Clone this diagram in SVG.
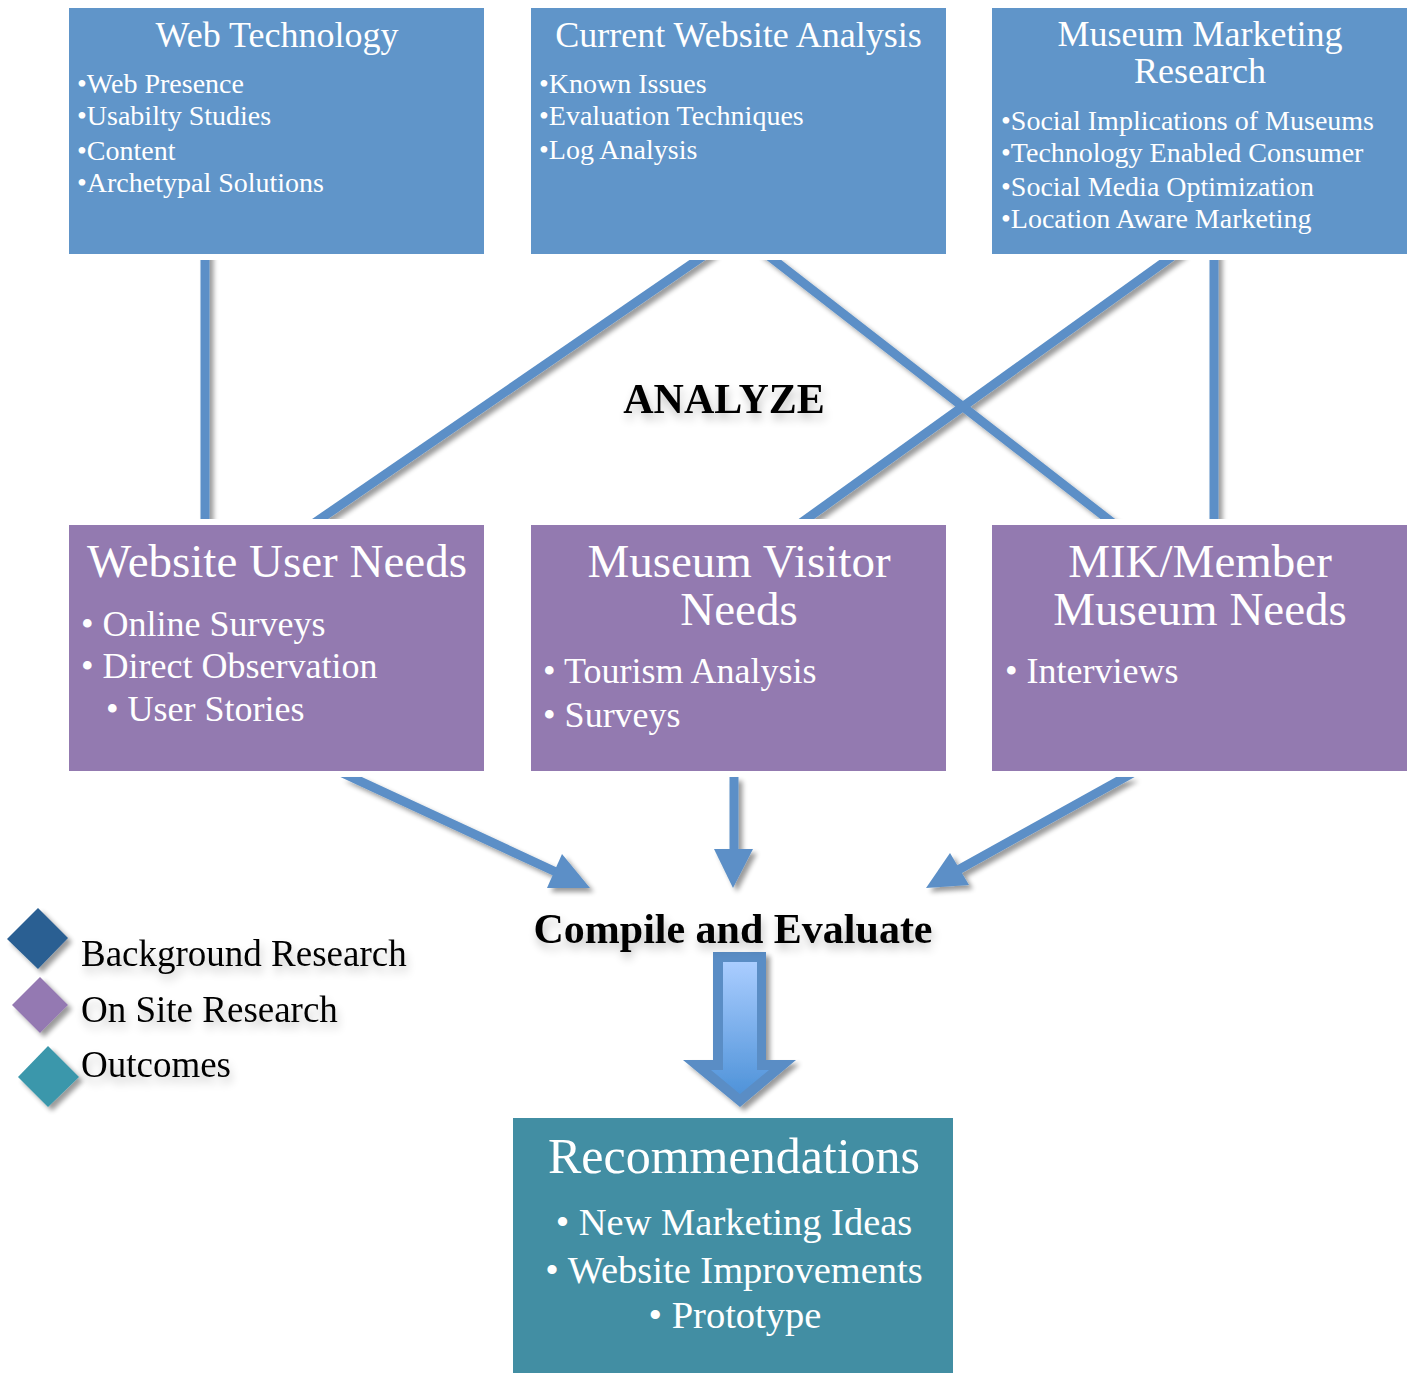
<svg xmlns="http://www.w3.org/2000/svg" width="1411" height="1373" viewBox="0 0 1411 1373">
<style>
.bx{fill:#6095C9}
.pu{fill:#937AB0}
.te{fill:#428EA3}
.wt{font-family:"Liberation Serif","Times New Roman",serif;fill:#ffffff}
.t1{font-size:36px}
.b1{font-size:28px}
.t2{font-size:47px}
.b2{font-size:36px}
.t3{font-size:50px}
.b3{font-size:38.5px}
.bk{font-family:"Liberation Serif","Times New Roman",serif;fill:#000000}
.lg{font-size:37px}
.hd{font-size:42px;font-weight:bold}
.cn{stroke:#5B8FC7;stroke-width:9;fill:none}
.ah{fill:#5B8FC7}
</style>
<defs>
<filter id="sh" filterUnits="userSpaceOnUse" x="0" y="0" width="1411" height="1373">
<feGaussianBlur in="SourceAlpha" stdDeviation="2.5"/>
<feOffset dx="4" dy="4" result="o"/>
<feComponentTransfer><feFuncA type="linear" slope="0.4"/></feComponentTransfer>
<feMerge><feMergeNode/><feMergeNode in="SourceGraphic"/></feMerge>
</filter>
<filter id="tsh" filterUnits="userSpaceOnUse" x="0" y="0" width="1411" height="1373">
<feGaussianBlur in="SourceAlpha" stdDeviation="5"/>
<feOffset dx="2" dy="6"/>
<feComponentTransfer><feFuncA type="linear" slope="0.25"/></feComponentTransfer>
<feMerge><feMergeNode/><feMergeNode in="SourceGraphic"/></feMerge>
</filter>
<clipPath id="cTop"><rect x="0" y="260" width="1411" height="259"/></clipPath>
<clipPath id="cBot"><rect x="0" y="777" width="1411" height="120"/></clipPath>
<linearGradient id="ag" x1="0" y1="0" x2="0" y2="1">
<stop offset="0" stop-color="#AACDFF"/>
<stop offset="1" stop-color="#4F93D9"/>
</linearGradient>
</defs>

<g id="connectors">
<g clip-path="url(#cTop)">
<g filter="url(#sh)">
<line class="cn" x1="205" y1="250" x2="205" y2="530"/>
<line class="cn" x1="712" y1="250" x2="304" y2="530"/>
<line class="cn" x1="761" y1="250" x2="1122" y2="530"/>
<line class="cn" x1="1181" y1="250" x2="791" y2="530"/>
<line class="cn" x1="1214" y1="250" x2="1214" y2="530"/>
</g>
</g>
<g filter="url(#sh)">
<g clip-path="url(#cBot)">
<line class="cn" x1="336" y1="770" x2="556" y2="872"/>
<line class="cn" x1="734" y1="770" x2="734" y2="852"/>
<line class="cn" x1="1138" y1="770" x2="958" y2="870"/>
</g>
<polygon class="ah" points="547,888 562,854 590,888"/>
<polygon class="ah" points="714,849 753,849 733,888"/>
<polygon class="ah" points="950,853 969,885 926,888"/>
</g>
<g id="bigArrow" filter="url(#sh)">
<polygon fill="#5A8DC5" points="713,952 766,952 766,1060 796,1060 740,1107 683,1060 713,1060"/>
<polygon fill="url(#ag)" points="723,962 757,962 757,1070 769,1070 740,1094 711,1070 723,1070"/>
</g>
</g>

<g id="webTech">
<rect class="bx" x="69" y="8" width="415" height="246"/>
<text class="wt t1" x="277" y="47" text-anchor="middle">Web Technology</text>
<text class="wt b1" x="77" y="93">•Web Presence</text>
<text class="wt b1" x="77" y="125">•Usabilty Studies</text>
<text class="wt b1" x="77" y="160">•Content</text>
<text class="wt b1" x="77" y="192">•Archetypal Solutions</text>
</g>

<g id="currentWebsite">
<rect class="bx" x="531" y="8" width="415" height="246"/>
<text class="wt t1" x="738.5" y="47" text-anchor="middle">Current Website Analysis</text>
<text class="wt b1" x="539" y="93">•Known Issues</text>
<text class="wt b1" x="539" y="125">•Evaluation Techniques</text>
<text class="wt b1" x="539" y="159">•Log Analysis</text>
</g>

<g id="museumMarketing">
<rect class="bx" x="992" y="8" width="415" height="246"/>
<text class="wt t1" x="1200" y="46" text-anchor="middle">Museum Marketing</text>
<text class="wt t1" x="1200" y="83" text-anchor="middle">Research</text>
<text class="wt b1" x="1001" y="130">•Social Implications of Museums</text>
<text class="wt b1" x="1001" y="162">•Technology Enabled Consumer</text>
<text class="wt b1" x="1001" y="196">•Social Media Optimization</text>
<text class="wt b1" x="1001" y="228">•Location Aware Marketing</text>
</g>

<g id="analyze">
<text class="bk hd" x="724" y="413" text-anchor="middle" filter="url(#tsh)">ANALYZE</text>
</g>

<g id="websiteUser">
<rect class="pu" x="69" y="525" width="415" height="246"/>
<text class="wt t2" x="277" y="577" text-anchor="middle">Website User Needs</text>
<text class="wt b2" x="81" y="636">• Online Surveys</text>
<text class="wt b2" x="81" y="678">• Direct Observation</text>
<text class="wt b2" x="106" y="721">• User Stories</text>
</g>

<g id="museumVisitor">
<rect class="pu" x="531" y="525" width="415" height="246"/>
<text class="wt t2" x="739" y="577" text-anchor="middle">Museum Visitor</text>
<text class="wt t2" x="739" y="625" text-anchor="middle">Needs</text>
<text class="wt b2" x="543" y="683">• Tourism Analysis</text>
<text class="wt b2" x="543" y="727">• Surveys</text>
</g>

<g id="mikMember">
<rect class="pu" x="992" y="525" width="415" height="246"/>
<text class="wt t2" x="1200" y="577" text-anchor="middle">MIK/Member</text>
<text class="wt t2" x="1200" y="625" text-anchor="middle">Museum Needs</text>
<text class="wt b2" x="1005" y="683">• Interviews</text>
</g>

<g id="compile">
<text class="bk hd" x="733" y="943" text-anchor="middle" filter="url(#tsh)">Compile and Evaluate</text>
</g>

<g id="legend">
<g filter="url(#sh)">
<polygon fill="#2A5F92" points="38,908 68,938 38,969 7,939"/>
<polygon fill="#9479B2" points="40,977 68,1005 40,1033 12,1005"/>
<polygon fill="#3A97AB" points="48,1046 79,1077 48,1107 18,1077"/>
</g>
<g filter="url(#tsh)">
<text class="bk lg" x="81" y="966">Background Research</text>
<text class="bk lg" x="81" y="1022">On Site Research</text>
<text class="bk lg" x="81" y="1077">Outcomes</text>
</g>
</g>

<g id="recommendations">
<rect class="te" x="513" y="1118" width="440" height="255"/>
<text class="wt t3" x="734" y="1173" text-anchor="middle">Recommendations</text>
<text class="wt b3" x="734" y="1235" text-anchor="middle">• New Marketing Ideas</text>
<text class="wt b3" x="734" y="1283" text-anchor="middle">• Website Improvements</text>
<text class="wt b3" x="735" y="1328" text-anchor="middle">• Prototype</text>
</g>
</svg>
